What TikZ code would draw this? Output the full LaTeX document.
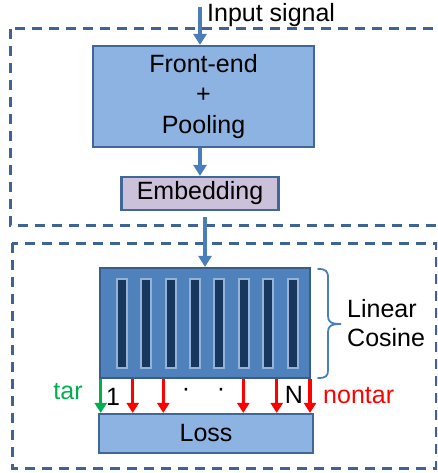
\documentclass[tikz,border=0pt]{standalone}
\usepackage{fontspec}
\setmainfont{Liberation Sans}
\usetikzlibrary{arrows.meta}
\definecolor{dashcol}{RGB}{61,100,148}
\definecolor{lightfill}{RGB}{141,179,226}
\definecolor{boxline}{RGB}{63,103,151}
\definecolor{embfill}{RGB}{204,193,218}
\definecolor{linfill}{RGB}{79,129,189}
\definecolor{linline}{RGB}{56,93,138}
\definecolor{barfill}{RGB}{23,55,94}
\definecolor{barline}{RGB}{149,179,215}
\definecolor{arrblue}{RGB}{74,126,187}
\definecolor{tgreen}{RGB}{0,176,80}
\begin{document}
\begin{tikzpicture}[x=1pt,y=-1pt,
  every node/.style={font=\fontsize{25}{30.5}\selectfont},
  dashbox/.style={draw=dashcol,line width=3pt,dash pattern=on 10pt off 7pt},
  bluebox/.style={draw=boxline,line width=2.2pt,fill=lightfill,inner sep=0pt},
  blarr/.style={draw=arrblue,line width=3.6pt,-{Triangle[length=11pt,width=13pt]}},
  redarr/.style={draw=red,line width=3.2pt,-{Triangle[length=10pt,width=12pt]}},
  grarr/.style={draw=tgreen,line width=3.2pt,-{Triangle[length=10pt,width=12pt]}},
  barbox/.style={draw=barline,fill=barfill,line width=2pt,minimum width=10pt,minimum height=89pt,inner sep=0pt}
]
\useasboundingbox (0,0) rectangle (437,473);
\begin{scope}
\clip (0,0) rectangle (437,473);
\draw[dashbox] (10,29) rectangle (442,225);
\draw[dashbox] (12,243) rectangle (436,468);
\end{scope}

\node[bluebox,minimum width=221pt,minimum height=101pt,align=center] (fe) at (203.5,96.5)
  {Front-end\\+\\Pooling};
\node[bluebox,fill=embfill,minimum width=157pt,minimum height=33pt] (emb) at (200,193.5) {Embedding};
\node[draw=linline,fill=linfill,line width=2.2pt,minimum width=210pt,minimum height=110pt,inner sep=0pt] (lin) at (205,323) {};
\foreach \i in {0,...,7}
  \node[barbox] (bar\i) at (121.7+24.4*\i,323.5) {};
\node[bluebox,minimum width=214pt,minimum height=39pt] (loss) at (206,433.5) {Loss};

\coordinate (in) at (200,7);
\draw[blarr] (in) -- (in |- fe.north);
\node[anchor=west,inner sep=0pt] (insig) at (207,15.5) {Input signal};
\draw[blarr] (fe.south -| emb.north) -- (emb.north);
\draw[blarr,shorten <=6pt] (emb.south -| lin.north) -- (lin.north);

% brace
\draw[draw=arrblue,line width=1.8pt,line cap=round]
  (318,269) .. controls (326,269) and (328,271) .. (328,278)
  -- (328,316) .. controls (328,322) and (331,324) .. (341,324)
  .. controls (331,324) and (328,326) .. (328,332)
  -- (328,370) .. controls (328,376) and (326,378) .. (318,378);
\node[anchor=west,align=left,inner sep=0pt,font=\fontsize{25}{29}\selectfont] (lc) at (347,323.5) {Linear\\Cosine};

\draw[grarr] (100.7,0 |- lin.south) -- (100.7,0 |- loss.north);
\foreach \x in {132.7,163.3,243.3,276.7,310}
  \draw[redarr] (\x,0 |- lin.south) -- (\x,0 |- loss.north);

\node[text=tgreen,inner sep=0pt] (tar) at (68,392) {tar};
\node[inner sep=0pt] (one) at (113,397) {1};
\node[inner sep=0pt] (d1) at (186,392) {·};
\node[inner sep=0pt] (d2) at (221,392) {·};
\node[inner sep=0pt] (nn) at (294,395) {N};
\node[text=red,anchor=west,inner sep=0pt] (nontar) at (323,396) {nontar};
\end{tikzpicture}
\end{document}
